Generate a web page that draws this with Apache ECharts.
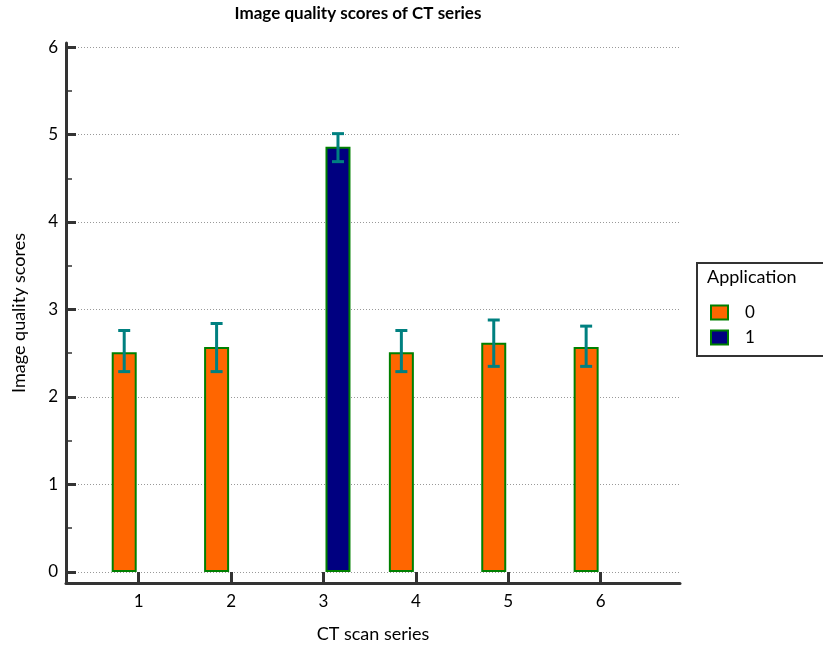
<!DOCTYPE html>
<html><head><meta charset="utf-8">
<script src="https://cdn.jsdelivr.net/npm/echarts@6/dist/echarts.min.js"></script>
<style>html,body{margin:0;padding:0;background:#fff}#c{width:823px;height:648px}</style>
</head><body><div id="c"></div>
<script>
// ---- data ----
const seriesNames = ['0', '1'];
const app0X = [1, 2, 4, 5, 6];
const app0Mean = [2.51, 2.57, 2.51, 2.62, 2.57];
const app0Low = [2.29, 2.29, 2.29, 2.35, 2.35];
const app0High = [2.76, 2.84, 2.76, 2.88, 2.81];
const app1X = [3];
const app1Mean = [4.86];
const app1Low = [4.69];
const app1High = [5.01];
const xTicks = [1, 2, 3, 4, 5, 6];
const yTicks = [0, 1, 2, 3, 4, 5, 6];
const yMinorTicks = [0.5, 1.5, 2.5, 3.5, 4.5, 5.5];

// ---- style constants ----
const BAR_W = 25, BAR_GAP = 4;
const FONT = 'Lato';
const AXIS_COLOR = '#333';

const errData = [];
app0X.forEach((x, i) => errData.push([x, app0Low[i], app0High[i], 0]));
app1X.forEach((x, i) => errData.push([x, app1Low[i], app1High[i], 1]));

function renderErr(params, api) {
  const x = api.value(0), lo = api.value(1), hi = api.value(2), g = api.value(3);
  const off = (g - 0.5) * (BAR_W + BAR_GAP);
  const pLo = api.coord([x, lo]), pHi = api.coord([x, hi]);
  const cx = pLo[0] + off, hw = 6;
  const style = { stroke: '#008080', lineWidth: 3, fill: null };
  return { type: 'group', children: [
    { type: 'line', shape: { x1: cx, y1: pLo[1], x2: cx, y2: pHi[1] }, style },
    { type: 'line', shape: { x1: cx - hw, y1: pHi[1], x2: cx + hw, y2: pHi[1] }, style },
    { type: 'line', shape: { x1: cx - hw, y1: pLo[1], x2: cx + hw, y2: pLo[1] }, style }
  ]};
}

const chart = echarts.init(document.getElementById('c'), null, { renderer: 'canvas' });
chart.setOption({
  animation: false,
  backgroundColor: '#fff',
  title: [
    { text: 'Image quality scores of CT series', left: 358, textAlign: 'center', top: 5, padding: 0,
      textStyle: { fontFamily: FONT, fontSize: 17, fontWeight: 'bold', color: '#000' } },
    { text: 'Application', left: 707, top: 268, padding: 0,
      textStyle: { fontFamily: FONT, fontSize: 18, fontWeight: 'normal', color: '#000' } }
  ],
  legend: {
    orient: 'vertical', left: 697, top: 263,
    data: seriesNames,
    itemWidth: 17, itemHeight: 14, itemGap: 8,
    padding: [41, 120, 10, 13],
    borderColor: AXIS_COLOR, borderWidth: 2,
    icon: 'rect',
    itemStyle: { borderColor: '#008000', borderWidth: 2 },
    textStyle: { fontFamily: FONT, fontSize: 17, color: '#000', padding: [0, 0, 0, 12] }
  },
  grid: { left: 66, right: 143, top: 43, bottom: 65 },
  xAxis: {
    type: 'value', min: 0.213, max: 6.859,
    name: 'CT scan series', nameLocation: 'middle', nameGap: 42,
    nameTextStyle: { fontFamily: FONT, fontSize: 18, color: '#000' },
    axisLine: { show: true, onZero: false, lineStyle: { color: AXIS_COLOR, width: 3 } },
    axisTick: { show: true, inside: true, length: 11, customValues: xTicks, lineStyle: { color: AXIS_COLOR, width: 3 } },
    axisLabel: { customValues: xTicks, margin: 10, fontFamily: FONT, fontSize: 17, color: '#000' },
    splitLine: { show: false }
  },
  yAxis: [
    {
      type: 'value', min: -0.126, max: 6.046,
      name: 'Image quality scores', nameLocation: 'middle', nameGap: 38,
      nameTextStyle: { fontFamily: FONT, fontSize: 18, color: '#000' },
      axisLine: { show: true, onZero: false, lineStyle: { color: AXIS_COLOR, width: 3 } },
      axisTick: { show: true, inside: true, length: 10, customValues: yTicks, lineStyle: { color: AXIS_COLOR, width: 3 } },
      axisLabel: { customValues: yTicks, margin: 8, fontFamily: FONT, fontSize: 17, color: '#000' },
      splitLine: { show: true, lineStyle: { color: '#999', type: [1, 2], width: 1 } }
    },
    {
      type: 'value', min: -0.126, max: 6.046, position: 'left',
      axisLine: { show: false },
      axisTick: { show: true, inside: true, length: 6, customValues: yMinorTicks, lineStyle: { color: AXIS_COLOR, width: 1.5 } },
      axisLabel: { show: false },
      splitLine: { show: false }
    }
  ],
  series: [
    { name: seriesNames[0], type: 'bar', barWidth: BAR_W, barGap: (BAR_GAP / BAR_W * 100) + '%',
      itemStyle: { color: '#FF6600', borderColor: '#008000', borderWidth: 2 },
      data: app0X.map((x, i) => [x, app0Mean[i]]) },
    { name: seriesNames[1], type: 'bar', barWidth: BAR_W, barGap: (BAR_GAP / BAR_W * 100) + '%',
      itemStyle: { color: '#000080', borderColor: '#008000', borderWidth: 2 },
      data: app1X.map((x, i) => [x, app1Mean[i]]) },
    { name: 'err', type: 'custom', renderItem: renderErr, z: 5,
      encode: { x: 0, y: [1, 2] }, data: errData }
  ]
});
</script></body></html>
